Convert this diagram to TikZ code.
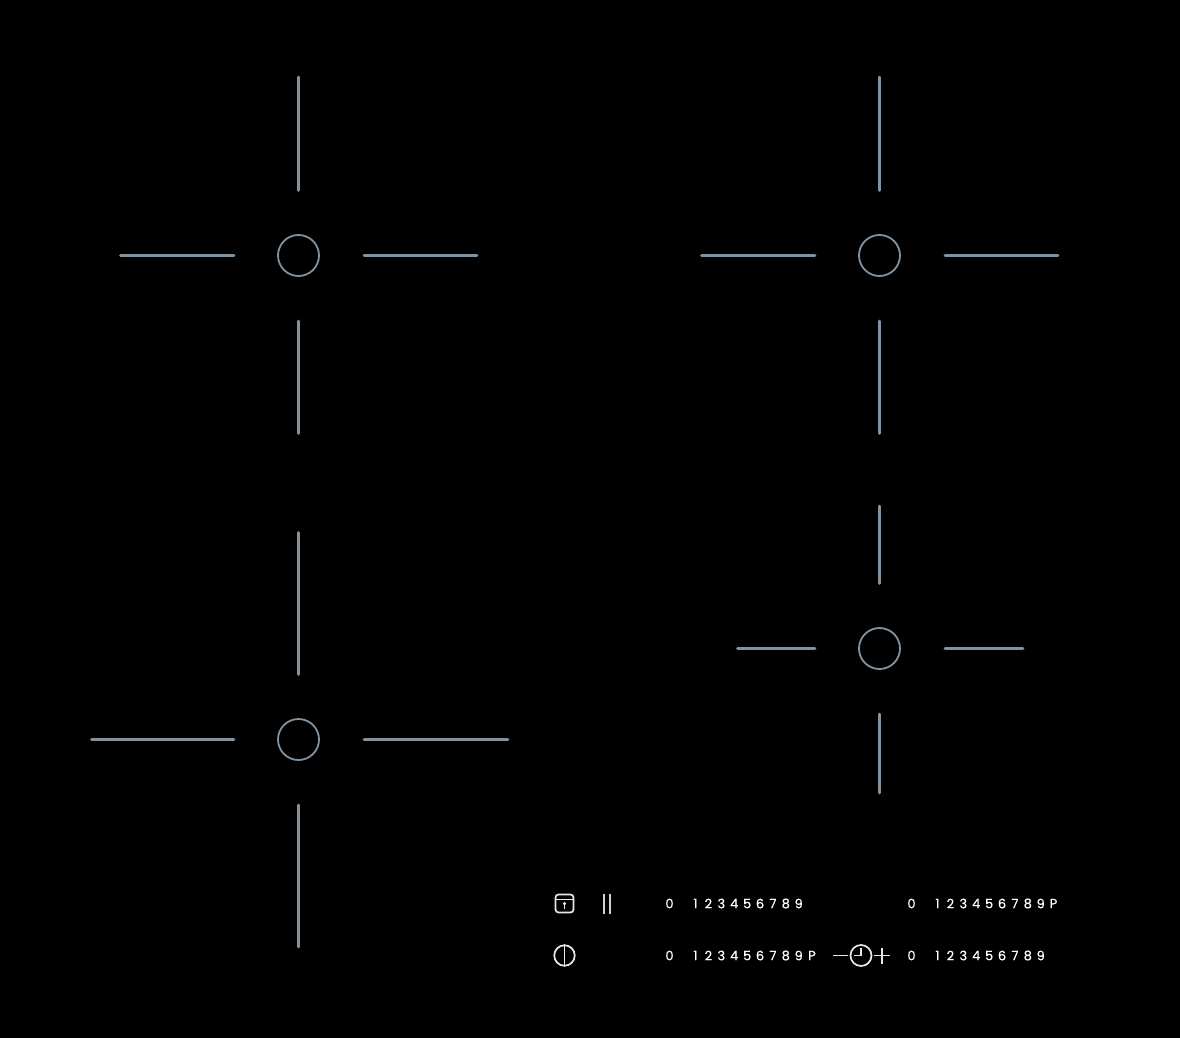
\documentclass[tikz,border=0pt]{standalone}
\usepackage{fontspec}
\setmainfont[FakeBold=0.35]{Poppins}
\definecolor{zoneline}{HTML}{82929F}
\definecolor{iconline}{HTML}{E6E9EC}
\tikzset{
  zonering/.style={circle,draw=zoneline,line width=1.8pt,minimum size=41pt,inner sep=0pt},
  zonearm/.style={draw=zoneline,line width=2.8pt,line cap=round},
  iconstroke/.style={draw=iconline,line width=1.7pt},
  digit/.style={text=white,font=\fontsize{13}{13}\selectfont,inner sep=0pt,anchor=center}
}
\newcommand{\zone}[7]{% name, x, y, up top, down bottom, left end, right end
  \node[zonering] (#1) at (#2,#3) {};
  \draw[zonearm] (#2,#4+1) -- (#2,#3-65);
  \draw[zonearm] (#2,#3+65.5) -- (#2,#5-1);
  \draw[zonearm] (#6+1,#3) -- (#2-64.5,#3);
  \draw[zonearm] (#2+65.5,#3) -- (#7-1,#3);
}
\newcommand{\digitrow}[3]{% x of 0, y, name prefix
  \node[digit] (#3z) at (#1,#2) {0};
  \foreach \d in {1,...,9} {
    \node[digit] (#3\d) at ({#1+26+(\d-1)*12.9},#2) {\d};
  }
}
\begin{document}
\begin{tikzpicture}[x=1pt,y=-1pt]
\useasboundingbox[fill=black] (0,0) rectangle (1180,1038);
\zone{a}{298.5}{255.5}{76}{434.5}{119.5}{478}
\zone{b}{879.5}{255.5}{76}{434.5}{700.5}{1059}
\zone{c}{298.5}{739.5}{531.5}{948}{90.5}{509}
\zone{d}{879.5}{648.5}{505}{794}{736.5}{1024}
% lock
\draw[iconstroke,rounded corners=3pt] (555.5,894.5) rectangle (573.5,912.5);
\draw[iconstroke,line width=1.2pt] (555.5,899.5) -- (573.5,899.5);
\fill[iconline] (564.5,903.6) circle (1.7pt);
\draw[iconstroke,line width=1.3pt] (564.5,904) -- (564.5,909);
% pause
\draw[iconstroke,draw=iconline!75!zoneline,line width=2pt] (603.5,893.5) -- (603.5,913.5);
\draw[iconstroke,draw=iconline!75!zoneline,line width=2pt] (610,893.5) -- (610,913.5);
% power
\node[circle,iconstroke,minimum size=20.5pt,inner sep=0pt] (power) at (564.5,955.5) {};
\draw[iconstroke,line width=1.4pt] (power.north) -- (power.south);
% timer
\node[circle,iconstroke,minimum size=21pt,inner sep=0pt] (clock) at (861,955.5) {};
\draw[iconstroke,line width=1.4pt,line join=miter] (861,947.5) -- (861,955.5) -- (853.5,955.5);
\draw[iconstroke] (833,955.5) -- (848,955.5);
\draw[iconstroke] (874,955.5) -- (890,955.5);
\draw[iconstroke] (882,947.5) -- (882,963.5);
% digits
\digitrow{669.5}{903.5}{p}
\digitrow{669.5}{955.5}{q}
\node[digit] (qP) at (812,955.5) {P};
\digitrow{911.5}{903.5}{r}
\node[digit] (rP) at (1053.5,903.5) {P};
\digitrow{911.5}{955.5}{s}
\end{tikzpicture}
\end{document}
